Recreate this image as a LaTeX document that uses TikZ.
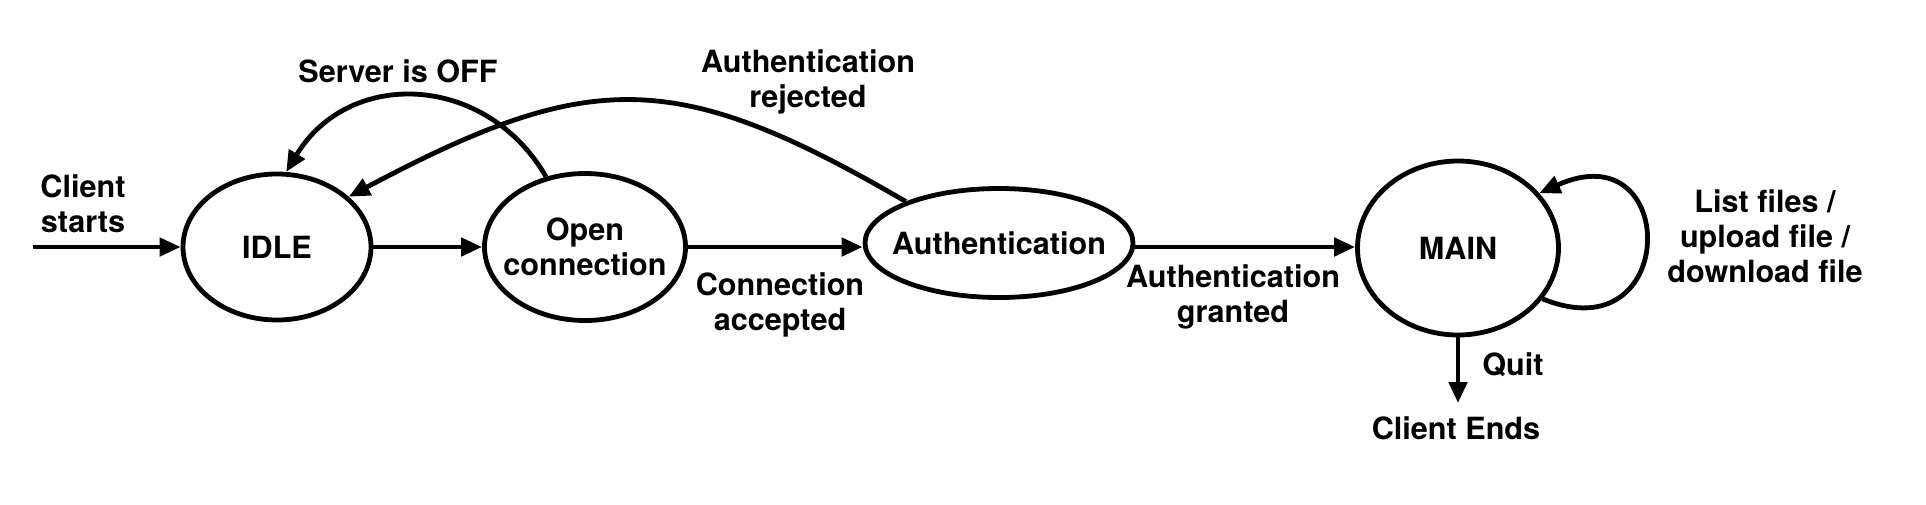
\documentclass[tikz,border=0pt]{standalone}
\usepackage{fontspec}
\setmainfont{TeX Gyre Heros}
\usetikzlibrary{shapes.geometric,arrows.meta}
\begin{document}
\begin{tikzpicture}[x=0.5pt,y=-0.5pt,
  lbl/.style={font=\fontsize{15.3}{17.5}\selectfont\bfseries,align=center,inner sep=0pt},
  state/.style={ellipse,draw,line width=2.4pt,inner sep=0pt,label={[lbl]center:#1}},
  arr/.style={line width=2.4pt,-{Triangle[length=10.5pt,width=9pt]}}]
\useasboundingbox (0,0) rectangle (1926,504);
% states
\node[state=IDLE,minimum width=94pt,minimum height=73pt] (idle) at (277,247) {};
\node[state={Open\\connection},minimum width=100.5pt,minimum height=73.5pt] (open) at (585,247) {};
\node[state=Authentication,minimum width=134pt,minimum height=54.5pt] (auth) at (999,243) {};
\node[state=MAIN,minimum width=100.5pt,minimum height=87pt] (main) at (1458,248) {};
% free ends
\coordinate (cs) at (33,247);
\coordinate (qend) at (1458,403);
% connectors
\draw[arr] (cs) -- (idle.west);
\draw[arr] (idle.east) -- (open.west);
\draw[arr] (open.east) -- (auth.west |- open.east);
\draw[arr] (auth.east |- idle.east) -- (main.west |- idle.east);
\draw[arr] (main.south) -- (qend);
\draw[arr] (open.119) .. controls (486,73) and (349,68) .. (idle.83);
\draw[arr] (auth.156) .. controls (676,68) and (591,68) .. (idle.35);
\draw[arr] (main.-31) .. controls (1680,355) and (1680,130) .. (main.34);
% labels
\node[lbl] (l1) at (83,204) {Client\\starts};
\node[lbl] (l2) at (398,71) {Server is OFF};
\node[lbl] (l3) at (808,82) {Authentication\\rejected};
\node[lbl] (l4) at (780,305) {Connection\\accepted};
\node[lbl] (l5) at (1233,297) {Authentication\\granted};
\node[lbl] (l6) at (1765,236) {List files /\\upload file /\\download file};
\node[lbl] (l7) at (1513,365) {Quit};
\node[lbl] (l8) at (1456,428) {Client Ends};
\end{tikzpicture}
\end{document}
